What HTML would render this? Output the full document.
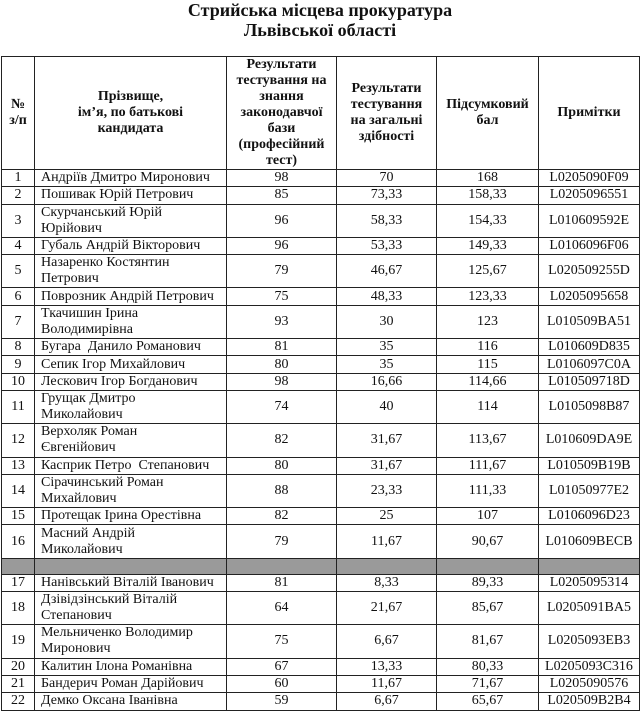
<!DOCTYPE html>
<html><head><meta charset="utf-8"><style>
body{margin:0;background:#fff;width:640px;height:712px;overflow:hidden;font-family:"Liberation Serif","DejaVu Serif",serif;color:#111}
.t{position:absolute;left:0;width:640px;text-align:center;font-weight:bold;font-size:18px;line-height:21px}
table{position:absolute;left:1px;top:56px;border-collapse:collapse;table-layout:fixed;width:638px}
td{border:1.3px solid #222;text-align:center;font-size:14px;line-height:16px;padding:0 2px;vertical-align:middle;overflow:hidden;white-space:nowrap}
td.n{text-align:left;padding-left:6px}
thead td{font-weight:bold;font-size:14px;line-height:16px;white-space:normal}
tr.s td{height:16.3px}
tr.d td{height:32.3px}
tr.g td{background:#9a9a9a;height:15px}
</style></head><body>
<div class="t" style="top:0">Стрийська місцева прокуратура</div>
<div class="t" style="top:20px">Львівської області</div>
<table>
<colgroup><col style="width:33px"><col style="width:192px"><col style="width:110px"><col style="width:100px"><col style="width:102px"><col style="width:101px"></colgroup>
<thead><tr><td style="height:112px">№<br>з/п</td><td>Прізвище,<br>ім’я, по батькові<br>кандидата</td><td>Результати<br>тестування на<br>знання<br>законодавчої<br>бази<br>(професійний<br>тест)</td><td>Результати<br>тестування<br>на загальні<br>здібності</td><td>Підсумковий<br>бал</td><td>Примітки</td></tr></thead>
<tbody>
<tr class="s"><td>1</td><td class="n">Андріїв Дмитро Миронович</td><td>98</td><td>70</td><td>168</td><td>L0205090F09</td></tr>
<tr class="s"><td>2</td><td class="n">Пошивак Юрій Петрович</td><td>85</td><td>73,33</td><td>158,33</td><td>L0205096551</td></tr>
<tr class="d"><td>3</td><td class="n">Скурчанський Юрій<br>Юрійович</td><td>96</td><td>58,33</td><td>154,33</td><td>L010609592E</td></tr>
<tr class="s"><td>4</td><td class="n">Губаль Андрій Вікторович</td><td>96</td><td>53,33</td><td>149,33</td><td>L0106096F06</td></tr>
<tr class="d"><td>5</td><td class="n">Назаренко Костянтин<br>Петрович</td><td>79</td><td>46,67</td><td>125,67</td><td>L020509255D</td></tr>
<tr class="s"><td>6</td><td class="n">Поврозник Андрій Петрович</td><td>75</td><td>48,33</td><td>123,33</td><td>L0205095658</td></tr>
<tr class="d"><td>7</td><td class="n">Ткачишин Ірина<br>Володимирівна</td><td>93</td><td>30</td><td>123</td><td>L010509BA51</td></tr>
<tr class="s"><td>8</td><td class="n">Бугара &nbsp;Данило Романович</td><td>81</td><td>35</td><td>116</td><td>L010609D835</td></tr>
<tr class="s"><td>9</td><td class="n">Сепик Ігор Михайлович</td><td>80</td><td>35</td><td>115</td><td>L0106097C0A</td></tr>
<tr class="s"><td>10</td><td class="n">Лескович Ігор Богданович</td><td>98</td><td>16,66</td><td>114,66</td><td>L010509718D</td></tr>
<tr class="d"><td>11</td><td class="n">Грущак Дмитро<br>Миколайович</td><td>74</td><td>40</td><td>114</td><td>L0105098B87</td></tr>
<tr class="d"><td>12</td><td class="n">Верхоляк Роман<br>Євгенійович</td><td>82</td><td>31,67</td><td>113,67</td><td>L010609DA9E</td></tr>
<tr class="s"><td>13</td><td class="n">Касприк Петро &nbsp;Степанович</td><td>80</td><td>31,67</td><td>111,67</td><td>L010509B19B</td></tr>
<tr class="d"><td>14</td><td class="n">Сірачинський Роман<br>Михайлович</td><td>88</td><td>23,33</td><td>111,33</td><td>L01050977E2</td></tr>
<tr class="s"><td>15</td><td class="n">Протещак Ірина Орестівна</td><td>82</td><td>25</td><td>107</td><td>L0106096D23</td></tr>
<tr class="d"><td>16</td><td class="n">Масний Андрій<br>Миколайович</td><td>79</td><td>11,67</td><td>90,67</td><td>L010609BECB</td></tr>
<tr class="g"><td></td><td></td><td></td><td></td><td></td><td></td></tr>
<tr class="s"><td>17</td><td class="n">Нанівський Віталій Іванович</td><td>81</td><td>8,33</td><td>89,33</td><td>L0205095314</td></tr>
<tr class="d"><td>18</td><td class="n">Дзівідзінський Віталій<br>Степанович</td><td>64</td><td>21,67</td><td>85,67</td><td>L0205091BA5</td></tr>
<tr class="d"><td>19</td><td class="n">Мельниченко Володимир<br>Миронович</td><td>75</td><td>6,67</td><td>81,67</td><td>L0205093EB3</td></tr>
<tr class="s"><td>20</td><td class="n">Калитин Ілона Романівна</td><td>67</td><td>13,33</td><td>80,33</td><td>L0205093C316</td></tr>
<tr class="s"><td>21</td><td class="n">Бандерич Роман Дарійович</td><td>60</td><td>11,67</td><td>71,67</td><td>L0205090576</td></tr>
<tr class="s"><td>22</td><td class="n">Демко Оксана Іванівна</td><td>59</td><td>6,67</td><td>65,67</td><td>L020509B2B4</td></tr>
</tbody></table>
</body></html>
